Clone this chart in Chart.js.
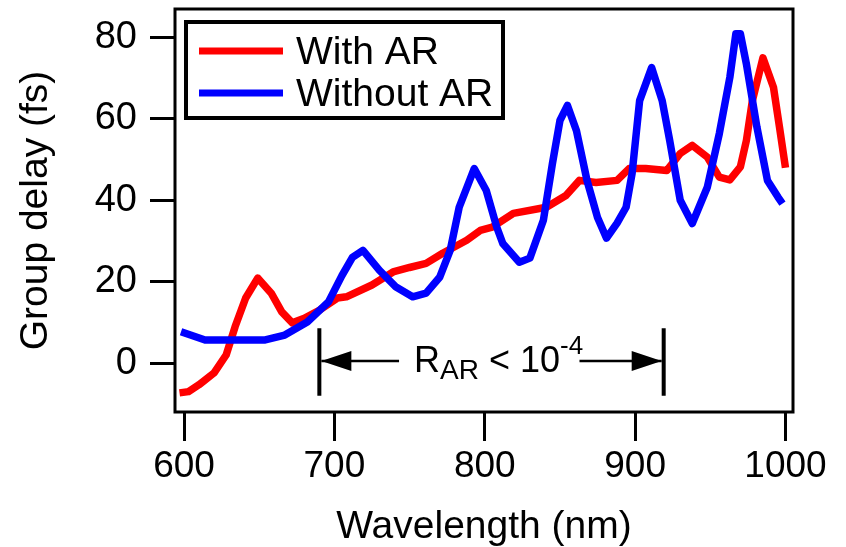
<!DOCTYPE html>
<html>
<head>
<meta charset="utf-8">
<title>Group delay</title>
<script src="https://cdn.jsdelivr.net/npm/chart.js@4.4.1/dist/chart.umd.min.js"></script>
<style>
    body { margin: 0; background: #fff; }
    #wrap { width: 846px; height: 547px; }
</style>
</head>
<body>
<div id="wrap">
    <canvas id="delayChart" width="846" height="547"></canvas>
</div>

<script>
    // data (wavelength in nm, group delay in fs)
    const withArNm = [597, 603, 610, 620, 628, 634, 641, 649, 658, 665, 672, 680, 690, 702, 708, 725, 739, 750, 761, 772,
        788, 797, 805, 819, 841, 854, 863, 874, 888, 896, 907, 921, 930, 938, 948, 956, 963, 970, 974, 978, 985, 992, 996, 1000];
    const withArDelay = [-7.3, -7.0, -5.3, -2.4, 2, 9, 16, 20.9, 17.2, 12.6, 9.9, 11, 13, 16, 16.3, 19.2, 22.4, 23.5, 24.5, 27,
        30.2, 32.6, 33.4, 36.8, 38.3, 41.2, 44.9, 44.4, 44.9, 47.8, 47.8, 47.3, 51.5, 53.5, 50.6, 45.7, 45, 48.2, 54.7, 64.5, 75, 67.8, 58, 48];

    const withoutArNm = [598, 614, 634, 654, 667, 682, 696, 705, 712, 719, 730, 741, 752, 761, 770, 777, 783, 793, 801, 808,
        812, 823, 830, 839, 845, 850, 855, 861, 868, 875, 881, 888, 894, 898, 903, 911, 918, 923, 930, 938,
        948, 956, 963, 967, 970, 974, 981, 988, 995, 998];
    const withoutArDelay = [7.7, 5.7, 5.7, 5.7, 6.9, 10.1, 15, 21.5, 26, 27.7, 22.8, 18.7, 16.3, 17.2, 21.1, 27.7, 38.3, 47.8, 42.4, 33.4,
        29.4, 24.8, 25.8, 35.1, 49, 59.6, 63.3, 57.1, 44.9, 35.8, 30.7, 34.4, 38.3, 46.6, 64.5, 72.6, 64.5, 54.7, 40, 34.3,
        43.2, 56.4, 70.2, 80.9, 80.9, 73.5, 58, 44.9, 40.8, 39.2];

    const seriesLabels = ["With AR", "Without AR"];
    const xTickValues = [600, 700, 800, 900, 1000];
    const yTickValues = [0, 20, 40, 60, 80];

    // annotation: AR coating range
    const arRangeNm = [690, 919];
    const arBarDelay = [-8, 8.6];
    const arArrowDelay = 0.5;
    const arArrowInnerNm = [743, 863];
    const arLabelNm = 753;

    const FONT = "'Liberation Sans', Arial, Helvetica, sans-serif";
    const colors = ["#ff0000", "#0000ff"];

    function toPoints(xs, ys) {
        return xs.map((x, i) => ({ x: x, y: ys[i] }));
    }

    // frame, legend box and the range annotation
    const decorPlugin = {
        id: "decor",
        afterDatasetsDraw(chart) {
            const { ctx, chartArea: a, scales: { x, y } } = chart;
            ctx.save();

            // plot frame
            ctx.strokeStyle = "#000";
            ctx.lineWidth = 3;
            ctx.strokeRect(a.left, a.top, a.right - a.left, a.bottom - a.top);

            // legend
            const lx = a.left + 11, ly = a.top + 13;
            ctx.fillStyle = "#fff";
            ctx.fillRect(lx, ly, 317, 96);
            ctx.lineWidth = 4;
            ctx.strokeRect(lx, ly, 317, 96);
            ctx.font = "39px " + FONT;
            ctx.textBaseline = "alphabetic";
            seriesLabels.forEach((label, i) => {
                const rowY = ly + 29 + i * 42;
                ctx.strokeStyle = colors[i];
                ctx.lineWidth = 7;
                ctx.beginPath();
                ctx.moveTo(lx + 13, rowY);
                ctx.lineTo(lx + 97, rowY);
                ctx.stroke();
                ctx.fillStyle = "#000";
                ctx.fillText(label, lx + 110, rowY + 13);
            });

            // range bars
            const x0 = x.getPixelForValue(arRangeNm[0]);
            const x1 = x.getPixelForValue(arRangeNm[1]);
            const yb0 = y.getPixelForValue(arBarDelay[0]);
            const yb1 = y.getPixelForValue(arBarDelay[1]);
            const ya = y.getPixelForValue(arArrowDelay);
            ctx.strokeStyle = "#000";
            ctx.fillStyle = "#000";
            ctx.lineWidth = 4;
            ctx.beginPath();
            ctx.moveTo(x0, yb0); ctx.lineTo(x0, yb1);
            ctx.moveTo(x1, yb0); ctx.lineTo(x1, yb1);
            ctx.stroke();

            // arrows
            ctx.lineWidth = 2.5;
            ctx.beginPath();
            ctx.moveTo(x0 + 2, ya); ctx.lineTo(x.getPixelForValue(arArrowInnerNm[0]), ya);
            ctx.moveTo(x.getPixelForValue(arArrowInnerNm[1]), ya); ctx.lineTo(x1 - 2, ya);
            ctx.stroke();
            ctx.beginPath();
            ctx.moveTo(x0 + 2, ya); ctx.lineTo(x0 + 32, ya - 10); ctx.lineTo(x0 + 32, ya + 10); ctx.closePath();
            ctx.moveTo(x1 - 2, ya); ctx.lineTo(x1 - 32, ya - 10); ctx.lineTo(x1 - 32, ya + 10); ctx.closePath();
            ctx.fill();

            // label R_AR < 10^-4
            let tx = x.getPixelForValue(arLabelNm);
            const base = ya + 11;
            ctx.textBaseline = "alphabetic";
            ctx.textAlign = "left";
            ctx.font = "36px " + FONT;
            ctx.fillText("R", tx, base);
            tx += ctx.measureText("R").width;
            ctx.font = "28px " + FONT;
            ctx.fillText("AR", tx, base + 7);
            tx += ctx.measureText("AR").width;
            ctx.font = "36px " + FONT;
            ctx.fillText(" < 10", tx, base);
            tx += ctx.measureText(" < 10").width;
            ctx.font = "26px " + FONT;
            ctx.fillText("-4", tx, base - 18);

            ctx.restore();
        }
    };

    new Chart(document.getElementById("delayChart").getContext("2d"), {
        type: "line",
        data: {
            datasets: [
                {
                    label: seriesLabels[0],
                    data: toPoints(withArNm, withArDelay),
                    borderColor: colors[0],
                    borderWidth: 7.5,
                    borderJoinStyle: "round",
                    pointRadius: 0,
                    tension: 0,
                    order: 2
                },
                {
                    label: seriesLabels[1],
                    data: toPoints(withoutArNm, withoutArDelay),
                    borderColor: colors[1],
                    borderWidth: 7.5,
                    borderJoinStyle: "round",
                    pointRadius: 0,
                    tension: 0,
                    order: 1
                }
            ]
        },
        options: {
            responsive: false,
            animation: false,
            layout: { padding: { top: 9, right: 53, left: 0, bottom: 0 } },
            plugins: {
                legend: { display: false },
                tooltip: { enabled: false }
            },
            scales: {
                x: {
                    type: "linear",
                    min: 594,
                    max: 1005,
                    afterBuildTicks: scale => { scale.ticks = xTickValues.map(v => ({ value: v })); },
                    afterFit: scale => { scale.height = 135; scale.paddingLeft = 0; scale.paddingRight = 0; },
                    grid: { drawOnChartArea: false, drawTicks: true, tickLength: 29, color: "#000", lineWidth: 3 },
                    border: { display: false },
                    ticks: { color: "#000", padding: 4, maxRotation: 0, font: { family: FONT, size: 37 }, callback: v => String(v) },
                    title: {
                        display: true,
                        text: "Wavelength (nm)",
                        color: "#000",
                        font: { family: FONT, size: 39, lineHeight: 1 },
                        padding: { top: 0, bottom: 0 }
                    }
                },
                y: {
                    type: "linear",
                    min: -12,
                    max: 87,
                    afterBuildTicks: scale => { scale.ticks = yTickValues.map(v => ({ value: v })); },
                    afterFit: scale => { scale.width = 175; scale.paddingTop = 0; scale.paddingBottom = 0; },
                    grid: { drawOnChartArea: false, drawTicks: true, tickLength: 25, color: "#000", lineWidth: 3 },
                    border: { display: false },
                    ticks: { color: "#000", padding: 13, font: { family: FONT, size: 38 } },
                    title: {
                        display: true,
                        text: "Group delay (fs)",
                        color: "#000",
                        font: { family: FONT, size: 39, lineHeight: 1 },
                        padding: { top: 17, bottom: 0 }
                    }
                }
            }
        },
        plugins: [decorPlugin]
    });
</script>
</body>
</html>
